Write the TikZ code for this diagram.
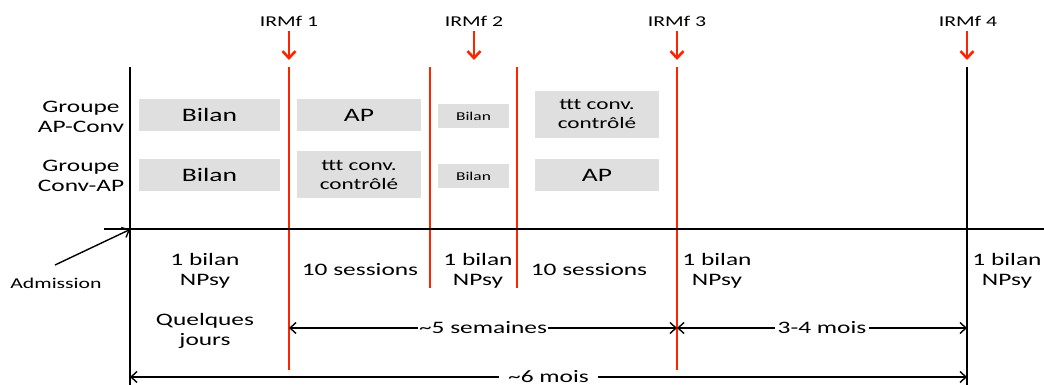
\documentclass[tikz,border=0pt]{standalone}
\usepackage{fontspec}
\setmainfont{Carlito}[FakeStretch=1.45]
\usetikzlibrary{arrows.meta}
\definecolor{irm}{RGB}{255,36,0}
\definecolor{boxg}{RGB}{223,223,223}
\tikzset{
  x=1pt, y=-1pt,
  gbox/.style={fill=boxg, draw=none, inner sep=0pt, align=center},
  big/.style={font=\fontsize{19}{23}\selectfont},
  mid/.style={font=\fontsize{16}{19}\selectfont},
  small/.style={font=\fontsize{12}{14}\selectfont},
  lab/.style={font=\fontsize{17.5}{20.5}\selectfont, align=center, inner sep=0pt},
  irmlab/.style={font=\fontsize{15}{18}\selectfont, inner sep=0pt},
  redline/.style={draw=irm, line width=2pt},
  blackline/.style={draw=black, line width=2pt},
  redarrow/.style={draw=irm, line width=2.6pt, -{Straight Barb[length=7pt,width=13pt,line width=2.6pt]}},
  dim/.style={draw=black, line width=1.4pt, {Straight Barb[length=6pt,width=11pt]}-{Straight Barb[length=6pt,width=11pt]}},
  dimlab/.style={font=\fontsize{17.5}{20.5}\selectfont, fill=white, inner ysep=1pt}
}
\begin{document}
\begin{tikzpicture}
\useasboundingbox (0,0) rectangle (1044,385);
% coordinates of timeline
\coordinate (a0t) at (130,67);  \coordinate (a0b) at (130,385);
\coordinate (r1t) at (289,67);  \coordinate (r1b) at (289,370);
\coordinate (r2t) at (430,67);  \coordinate (r2b) at (430,288);
\coordinate (r3t) at (517,67);  \coordinate (r3b) at (517,288);
\coordinate (r4t) at (677,67);  \coordinate (r4b) at (677,370);
\coordinate (k4t) at (967,67);  \coordinate (k4b) at (967,385);
\coordinate (hx0) at (104,229); \coordinate (hx1) at (1052,229);
% IRMf labels and arrows
\node[irmlab] (i1) at (289,21) {IRMf 1};
\node[irmlab] (i2) at (474,21) {IRMf 2};
\node[irmlab] (i3) at (677,21) {IRMf 3};
\node[irmlab] (i4) at (968,21) {IRMf 4};
\coordinate (e1) at (289,60); \coordinate (e2) at (474,60);
\coordinate (e3) at (677,60); \coordinate (e4) at (967,60);
\coordinate (s1) at (289,31); \coordinate (s2) at (474,31);
\coordinate (s3) at (677,31); \coordinate (s4) at (967,31);
\draw[redarrow] (s1) -- (e1);
\draw[redarrow] (s2) -- (e2);
\draw[redarrow] (s3) -- (e3);
\draw[redarrow] (s4) -- (e4);
% lines
\draw[blackline] (a0t) -- (a0b);
\draw[blackline] (k4t) -- (k4b);
\draw[redline] (r1t) -- (r1b);
\draw[redline] (r2t) -- (r2b);
\draw[redline] (r3t) -- (r3b);
\draw[redline] (r4t) -- (r4b);
\draw[draw=black, line width=1.5pt, -{Straight Barb[length=6pt,width=11pt]}] (hx0) -- (hx1);
% group labels
\node[lab] (g1) at (81,117) {Groupe\\AP-Conv};
\node[lab] (g2) at (81,176) {Groupe\\Conv-AP};
% boxes
\node[gbox, big, minimum width=141pt, minimum height=32pt] (b11) at (209.5,115) {Bilan};
\node[gbox, big, minimum width=124pt, minimum height=32pt] (b12) at (359,115) {AP};
\node[gbox, small, minimum width=71pt, minimum height=24pt] (b13) at (473.5,116) {Bilan};
\node[gbox, mid, minimum width=124pt, minimum height=47pt] (b14) at (597,114.5) {ttt conv.\\contrôlé};
\node[gbox, big, minimum width=141pt, minimum height=32pt] (b21) at (209.5,175) {Bilan};
\node[gbox, mid, minimum width=124pt, minimum height=47pt] (b22) at (359,174.5) {ttt conv.\\contrôlé};
\node[gbox, small, minimum width=71pt, minimum height=24pt] (b23) at (473.5,176) {Bilan};
\node[gbox, big, minimum width=124pt, minimum height=32pt] (b24) at (597,175) {AP};
% admission
\node[irmlab] (adm) at (56,283) {Admission};
\coordinate (admt) at (55,265);
\draw[draw=black, line width=1.4pt, -{Straight Barb[length=6pt,width=11pt]}] (admt) -- (130,229.5);
% bottom texts
\node[lab] (n1) at (205,271) {1 bilan\\NPsy};
\node[lab] (t1) at (360,270) {10 sessions};
\node[lab] (n2) at (478,271) {1 bilan\\NPsy};
\node[lab] (t2) at (589,270) {10 sessions};
\node[lab] (n3) at (717,271) {1 bilan\\NPsy};
\node[lab] (n4) at (1007,271) {1 bilan\\NPsy};
\node[lab] (q) at (205,331) {Quelques\\jours};
% dimension arrows
\coordinate (d1a) at (289,328); \coordinate (d1b) at (677,328);
\coordinate (d2b) at (967,328);
\coordinate (d3a) at (130,377); \coordinate (d3b) at (967,377);
\draw[dim] (d1a) -- (d1b) node[midway, dimlab, inner xsep=1pt] {\textasciitilde 5 semaines};
\draw[dim] (d1b) -- (d2b) node[midway, dimlab, inner xsep=3pt] {3-4 mois};
\draw[dim] (d3a) -- (d3b) node[midway, dimlab, inner xsep=9pt] {\textasciitilde 6 mois};
\end{tikzpicture}
\end{document}
